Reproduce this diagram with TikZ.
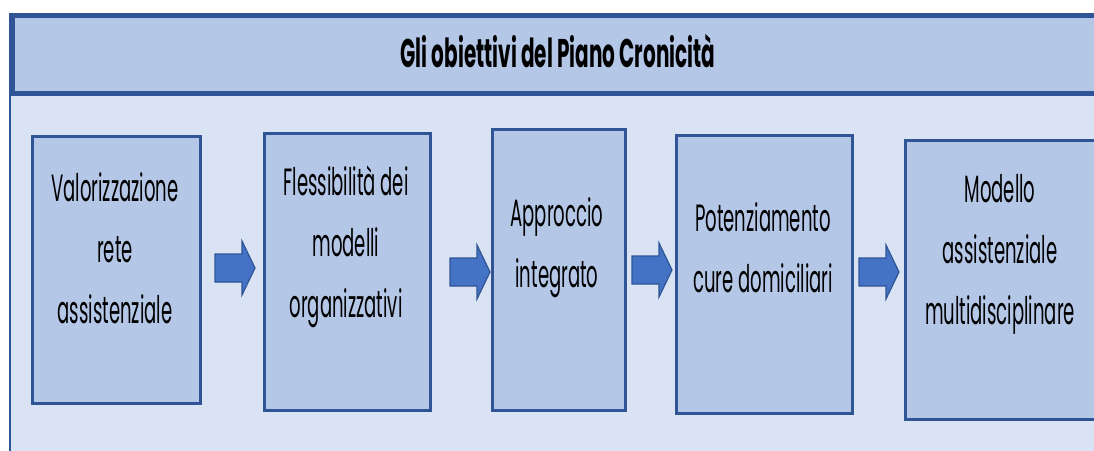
\documentclass[tikz,border=0pt]{standalone}
\usepackage{fontspec}
\setmainfont{Poppins}[FakeStretch=0.475]
\newfontfamily\titlefont{Poppins}[FakeStretch=0.5]
\usetikzlibrary{calc}
\definecolor{dkblue}{HTML}{2F5597}
\definecolor{midblue}{HTML}{B4C7E7}
\definecolor{ltblue}{HTML}{DAE3F3}
\definecolor{arrblue}{HTML}{4472C4}
\tikzset{
  stepbox/.style={draw=dkblue, fill=midblue, line width=2.6pt, rectangle},
  boxtext/.style={align=center, font=\fontsize{38}{61}\selectfont, inner sep=0pt},
  blockarrow/.style={draw=dkblue, fill=arrblue, line width=1.2pt, line join=miter},
}
\begin{document}
\begin{tikzpicture}[x=1pt,y=-1pt]
\useasboundingbox (0,0) rectangle (1094,450);
\begin{scope}
\clip (0,0) rectangle (1094,450);
% lower panel
\fill[ltblue] (10,91) rectangle (1130,470);
% title band
\node[draw=dkblue, fill=midblue, line width=5pt, minimum width=1130pt, minimum height=78pt, anchor=north west, inner sep=0pt] (band) at (10,13) {};
\draw[dkblue, line width=2.6pt] (10,13) -- (10,470);
\end{scope}
\node[font=\titlefont\bfseries\fontsize{40}{44}\selectfont] (title) at (558,51) {Gli obiettivi del Piano Cronicità};

% boxes
\node[stepbox, anchor=north west, minimum width=168pt, minimum height=267pt] (b1) at (31,135) {};
\node[stepbox, anchor=north west, minimum width=166pt, minimum height=277pt] (b2) at (263,132) {};
\node[stepbox, anchor=north west, minimum width=133pt, minimum height=281pt] (b3) at (491,128) {};
\node[stepbox, anchor=north west, minimum width=176pt, minimum height=278pt] (b4) at (675,134) {};
\begin{scope}
\clip (0,0) rectangle (1094,450);
\node[stepbox, anchor=north west, minimum width=230pt, minimum height=279pt] (b5) at (904,139) {};
\end{scope}

% texts
\node[boxtext] (t1) at (115,248) {Valorizzazione\\rete\\assistenziale};
\node[boxtext] (t2) at (346,247) {Flessibilità dei\\modelli\\organizzativi};
\node[boxtext] (t3) at (557,248) {Approccio\\integrato};
\node[boxtext] (t4) at (763,248) {Potenziamento\\cure domiciliari};
\node[boxtext] (t5) at (1000,254) {Modello\\assistenziale\\multidisciplinare};

% arrows
\coordinate (a1) at (235,268);
\coordinate (a2) at (470,272);
\coordinate (a3) at (652,270);
\coordinate (a4) at (879,272);
\foreach \c in {a1,a2,a3,a4}{
  \draw[blockarrow, shift={(\c)}] (-20,-14) -- (7,-14) -- (7,-27) -- (20,0) -- (7,27) -- (7,14) -- (-20,14) -- cycle;
}
\end{tikzpicture}
\end{document}
